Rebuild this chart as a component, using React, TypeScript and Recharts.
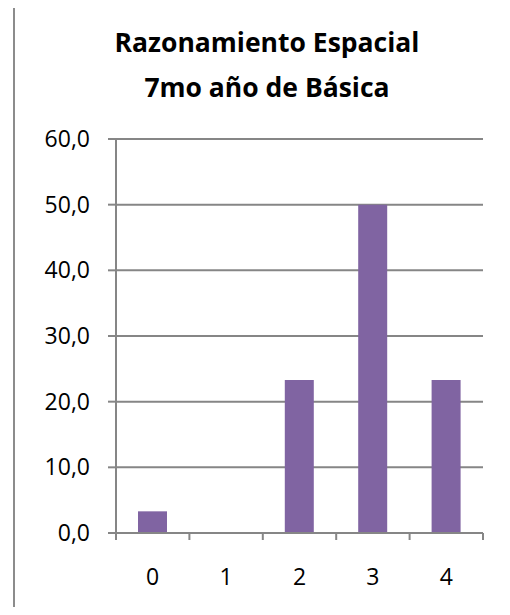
import React from "react"
import { BarChart, Bar, XAxis, YAxis, CartesianGrid } from "recharts"

const categories = ["0", "1", "2", "3", "4"]
const percentages = [3.3, 0, 23.3, 50.0, 23.3]
const yTicks = [0, 10, 20, 30, 40, 50, 60]
const titleLines = ["Razonamiento Espacial", "7mo año de Básica"]

const data = categories.map((c, i) => ({ name: c, value: percentages[i] }))

const WIDTH = 510
const HEIGHT = 615
const MARGIN = { top: 139, right: 27, bottom: 30, left: 0 }
const Y_AXIS_W = 116
const X_AXIS_H = 52
const AXIS_COLOR = "#868686"
const FONT = "'Open Sans', sans-serif"
const TICK_FONT_SIZE = 23

// plot width split evenly between categories, used to place tick marks on the band edges
const band = (WIDTH - MARGIN.left - MARGIN.right - Y_AXIS_W) / categories.length

const formatTick = (v: number) => v.toFixed(1).replace(".", ",")

function CategoryTick(props: any) {
  const { x, y, payload, index } = props
  const left = x - band / 2
  const right = x + band / 2
  return (
    <g>
      <line x1={left} y1={y} x2={left} y2={y + 7} stroke={AXIS_COLOR} strokeWidth={2} />
      {index === categories.length - 1 && (
        <line x1={right} y1={y} x2={right} y2={y + 7} stroke={AXIS_COLOR} strokeWidth={2} />
      )}
      <text x={x} y={y + 52} textAnchor="middle" fill="#000" fontSize={TICK_FONT_SIZE} fontFamily={FONT}>
        {payload.value}
      </text>
    </g>
  )
}

export default function App() {
  return (
    <div
      style={{
        position: "relative",
        width: WIDTH,
        height: HEIGHT,
        margin: -8,
        overflow: "hidden",
        background: "#fff",
      }}
    >
      <div
        style={{
          position: "absolute",
          left: 13,
          top: 6,
          width: WIDTH,
          height: HEIGHT,
          borderLeft: "2px solid #8c8c8c",
          borderTop: "2px solid #8c8c8c",
        }}
      />
      <div
        style={{
          position: "absolute",
          left: 14,
          right: -10,
          top: 20,
          textAlign: "center",
          fontFamily: FONT,
          fontWeight: 700,
          fontSize: 26.5,
          lineHeight: "45px",
          color: "#000",
        }}
      >
        {titleLines.map((t) => (
          <div key={t}>{t}</div>
        ))}
      </div>
      <div style={{ position: "absolute", left: 0, top: 0 }}>
        <BarChart width={WIDTH} height={HEIGHT} data={data} margin={MARGIN}>
          <CartesianGrid vertical={false} stroke={AXIS_COLOR} strokeWidth={2} />
          <XAxis
            dataKey="name"
            height={X_AXIS_H}
            tickLine={false}
            tickSize={0}
            tickMargin={0}
            axisLine={{ stroke: AXIS_COLOR, strokeWidth: 2 }}
            tick={<CategoryTick />}
            interval={0}
          />
          <YAxis
            width={Y_AXIS_W}
            domain={[0, 60]}
            ticks={yTicks}
            tickFormatter={formatTick}
            tickSize={8}
            tickMargin={18}
            tickLine={{ stroke: AXIS_COLOR, strokeWidth: 2 }}
            axisLine={{ stroke: AXIS_COLOR, strokeWidth: 2 }}
            tick={{ fill: "#000", fontSize: TICK_FONT_SIZE, fontFamily: FONT }}
          />
          <Bar dataKey="value" fill="#8064A2" barSize={29} isAnimationActive={false} />
        </BarChart>
      </div>
    </div>
  )
}
